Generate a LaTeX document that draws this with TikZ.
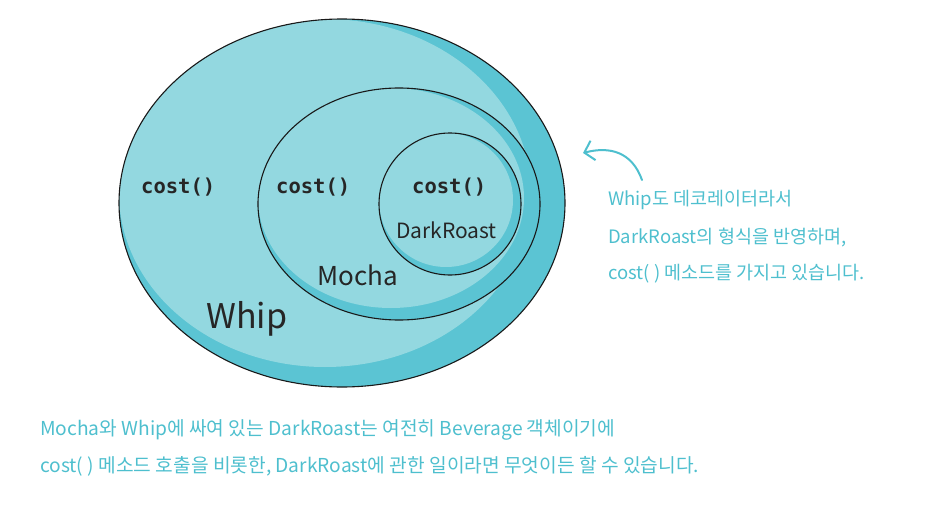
\documentclass[tikz,border=0pt]{standalone}
\usepackage{fontspec}
\setmainfont{Noto Sans CJK KR}
\newfontfamily\codefont{DejaVu Sans Mono}
\newfontfamily\kofont{Noto Sans CJK KR}
\usetikzlibrary{arrows.meta}
\definecolor{ringdark}{HTML}{5BC4D3}
\definecolor{ringlight}{HTML}{93D8E0}
\definecolor{noteteal}{HTML}{4EBFCE}
\tikzset{
  codelbl/.style={anchor=base west, inner sep=0pt, font=\codefont\bfseries\fontsize{20.5}{20.5}\selectfont, text=black!85},
  namelbl/.style={anchor=base west, inner sep=0pt, text=black!85},
  noteline/.style={anchor=base west, inner sep=0pt, text=noteteal, font=\kofont\fontsize{18.5}{18.5}\selectfont},
  bottomline/.style={noteline, font=\kofont\fontsize{19.2}{19.2}\selectfont},
  outline/.style={draw=black!90, line width=1.1pt}
}
\begin{document}
\begin{tikzpicture}[x=1pt,y=-1pt]
\useasboundingbox (0,0) rectangle (932,530);
% Whip
\fill[ringdark] (342,203) ellipse [x radius=223, y radius=184];
\begin{scope}
\clip (342,203) ellipse [x radius=223, y radius=184];
\fill[ringlight] (325,193) ellipse [x radius=206, y radius=174];
\end{scope}
\draw[outline] (342,203) ellipse [x radius=223, y radius=184];
% Mocha
\fill[ringdark] (399,204) ellipse [x radius=141, y radius=116];
\begin{scope}
\clip (399,204) ellipse [x radius=141, y radius=116];
\fill[ringlight] (391,198) ellipse [x radius=133, y radius=110];
\end{scope}
\draw[outline] (399,204) ellipse [x radius=141, y radius=116];
% DarkRoast
\fill[ringdark] (450,204) circle [radius=71];
\begin{scope}
\clip (450,204) circle [radius=71];
\fill[ringlight] (446,200) circle [radius=67];
\end{scope}
\draw[outline] (450,204) circle [radius=71];
% labels
\node[codelbl] (c1) at (141,193) {cost()};
\node[codelbl] (c2) at (276,193) {cost()};
\node[codelbl] (c3) at (412,193) {cost()};
\node[namelbl, font=\kofont\fontsize{21}{21}\selectfont] (dr) at (396,238) {DarkRoast};
\node[namelbl, font=\kofont\fontsize{26}{26}\selectfont] (mo) at (317,285) {Mocha};
\node[namelbl, font=\kofont\fontsize{34}{34}\selectfont] (wh) at (206,328) {Whip};
% annotation
\node[noteline] (n1) at (608,205) {Whip도 데코레이터라서};
\node[noteline] (n2) at (608,243) {DarkRoast의 형식을 반영하며,};
\node[noteline] (n3) at (608,279) {cost( ) 메소드를 가지고 있습니다.};
\coordinate (as) at (642,180);
\coordinate (at) at (583,153);
\draw[noteteal, line width=2pt, line cap=round, -{Straight Barb[length=9pt, width=20pt, line width=2pt]}]
  (as) .. controls (632,152) and (610,146) .. (at);
\node[bottomline] (b1) at (40,435) {Mocha와 Whip에 싸여 있는 DarkRoast는 여전히 Beverage 객체이기에};
\node[bottomline] (b2) at (40,472) {cost( ) 메소드 호출을 비롯한, DarkRoast에 관한 일이라면 무엇이든 할 수 있습니다.};
\end{tikzpicture}
\end{document}
